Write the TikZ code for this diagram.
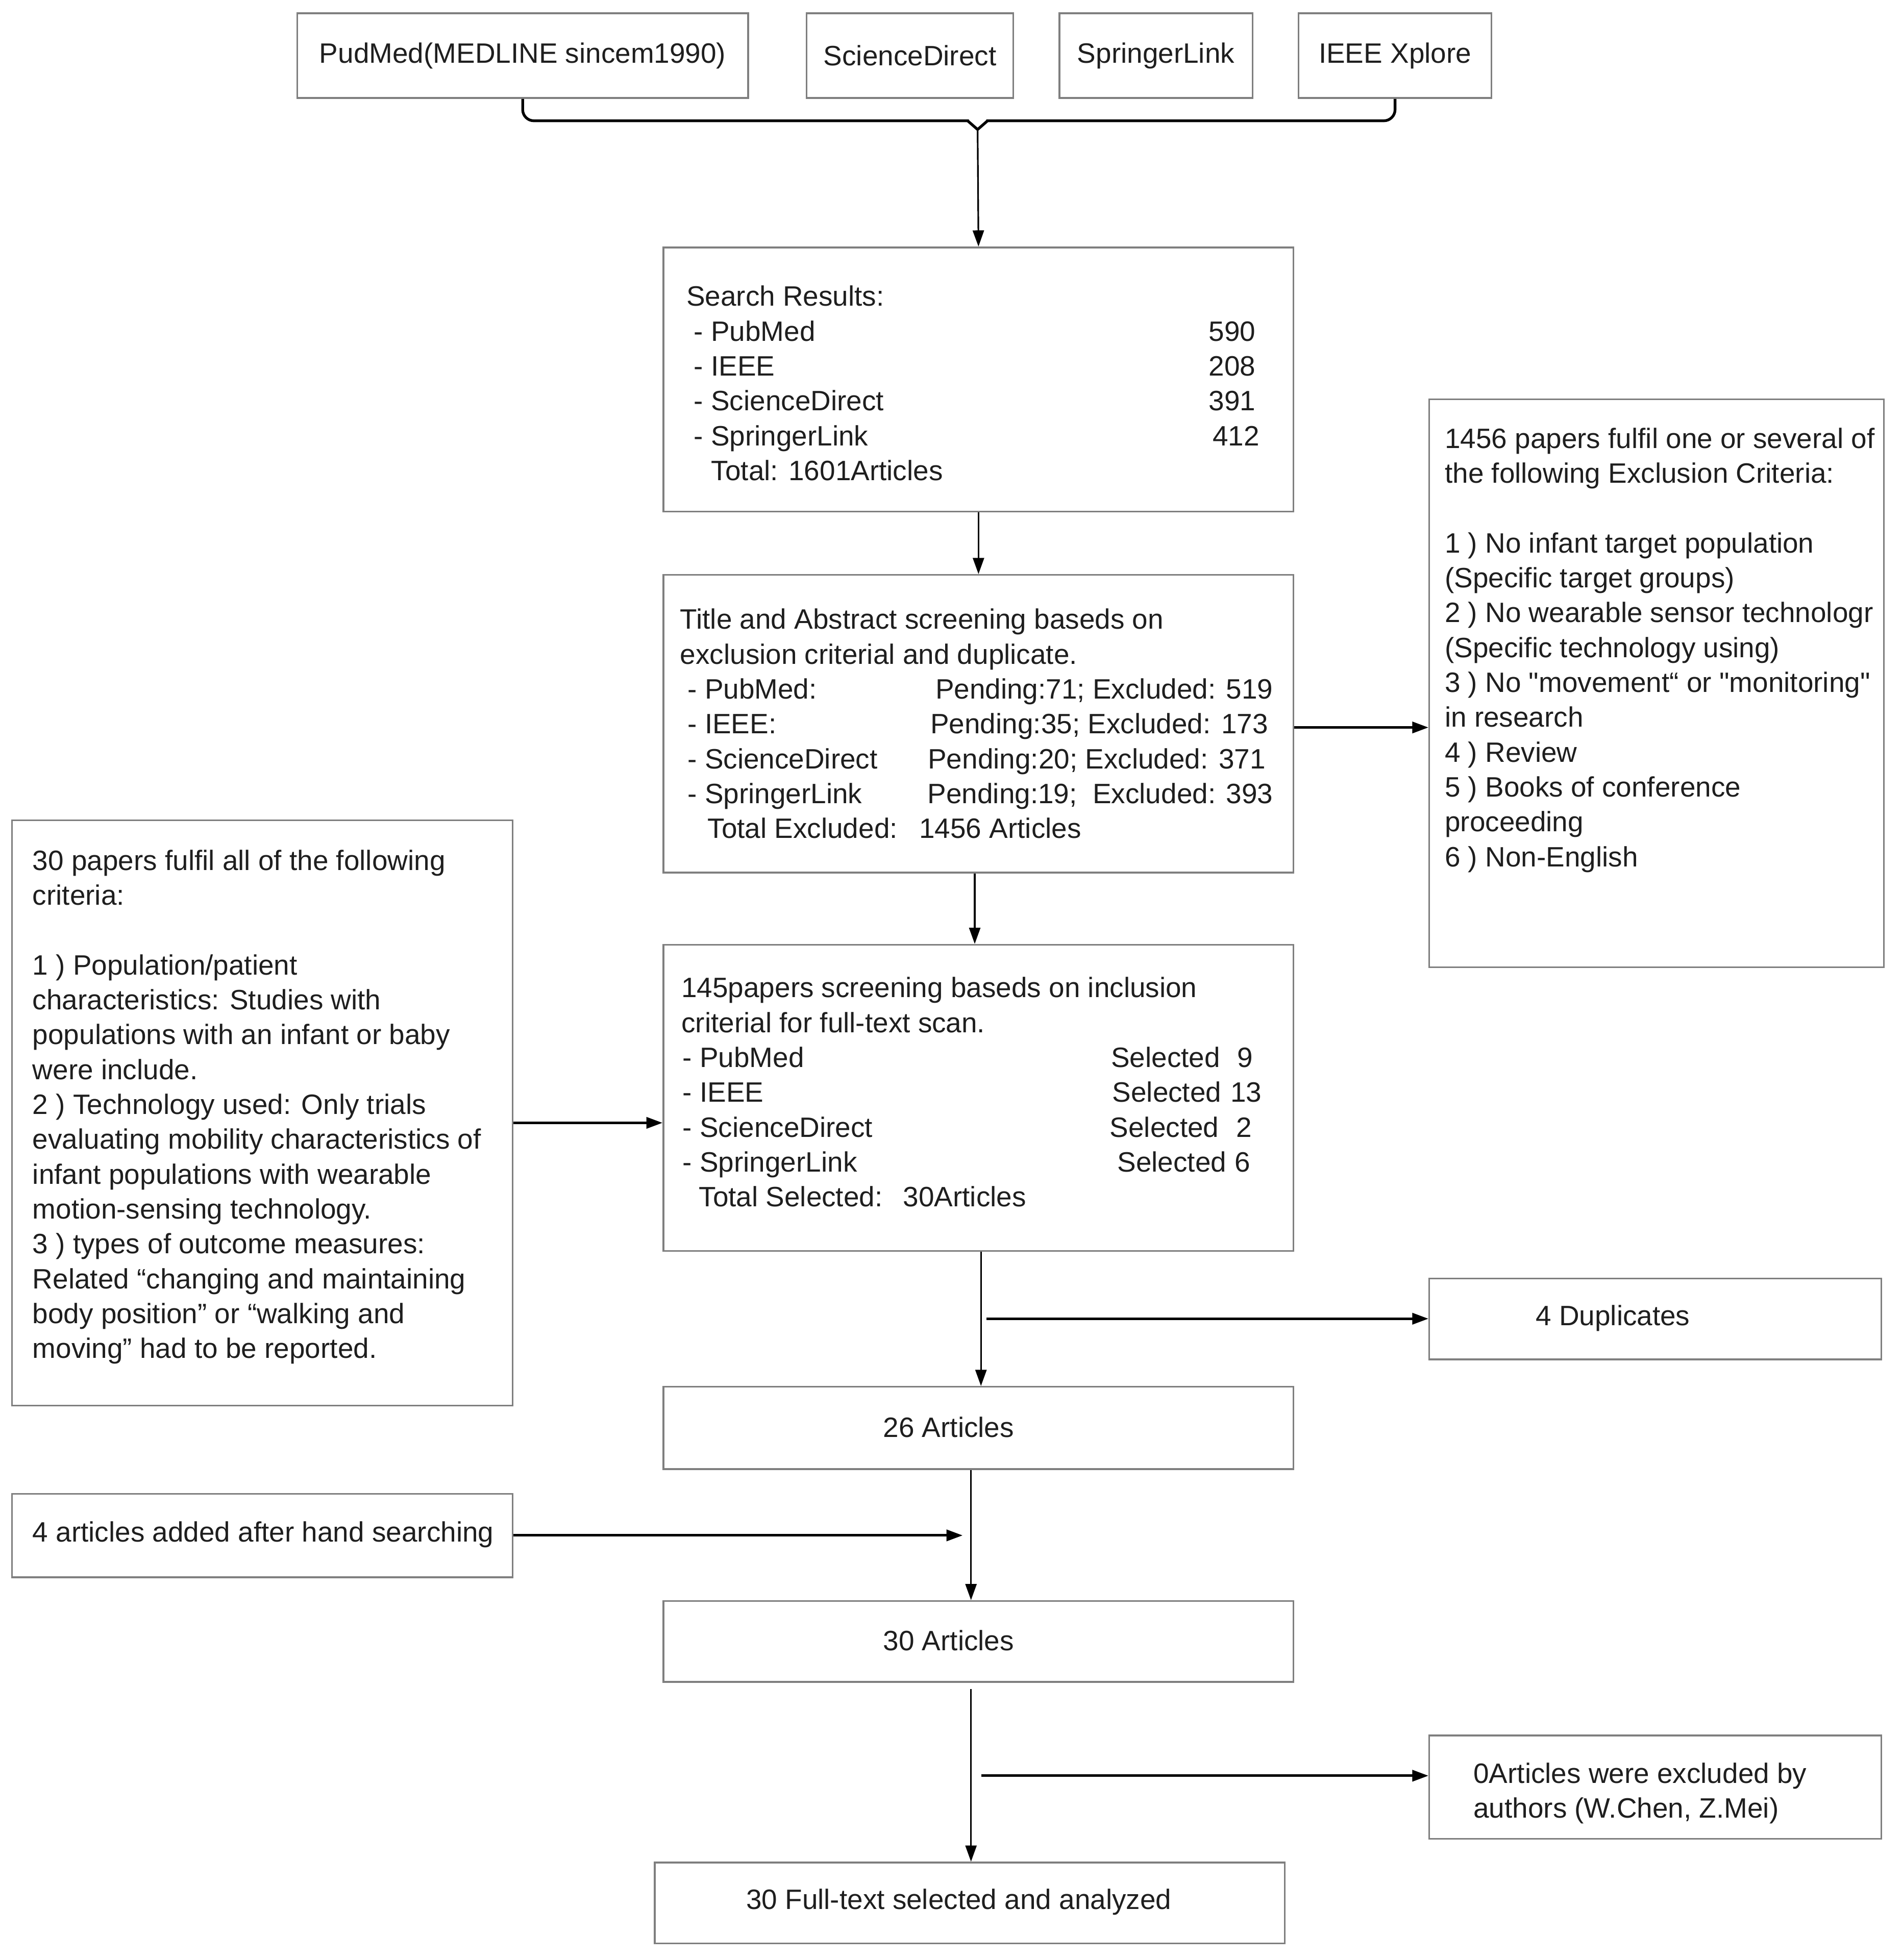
\documentclass[tikz,border=0pt]{standalone}
\usepackage{fontspec}
\setmainfont{Liberation Sans}[Ligatures=TeXOff]
\usetikzlibrary{arrows.meta,calc}
\definecolor{boxgray}{HTML}{7F7F7F}
\definecolor{txtc}{HTML}{1E1E1E}
\begin{document}
\begin{tikzpicture}[x=1pt,y=-1pt,
  box/.style={draw=boxgray,line width=1.4pt,inner sep=0pt,anchor=north west,text=txtc,font=\fontsize{22.5}{28}\selectfont},
  txt/.style={inner sep=0pt,text=txtc,font=\fontsize{22.5}{28}\selectfont,align=left,anchor=west},
  arr/.style={draw=black,line width=1.3pt,-{Triangle[length=13pt,width=9pt]}},
  harr/.style={draw=black,line width=2pt,-{Triangle[length=13pt,width=9pt]}},
  bracestyle/.style={draw=black,line width=2.2pt}]
\fill[white] (0,0) rectangle (1527,1574);
\useasboundingbox (0,0) rectangle (1527,1574);

% top source boxes
\node[box,minimum width=362pt,minimum height=68pt] (pm) at (238,10) {PudMed(MEDLINE sincem1990)};
\node[box,minimum width=166pt,minimum height=68pt] (sd) at (647,10) {ScienceDirect};
\node[box,minimum width=155pt,minimum height=68pt] (sl) at (850,10) {SpringerLink};
\node[box,minimum width=155pt,minimum height=68pt] (ie) at (1042,10) {IEEE Xplore};

% search results
\node[box,minimum width=506pt,minimum height=212pt] (sr) at (532,198) {};
\node[txt] (srt) at ([xshift=19pt,yshift=-3pt]sr.west) {Search Results:\\
\makebox[457pt][l]{\hspace*{6pt}- PubMed\hfill 590}\\
\makebox[457pt][l]{\hspace*{6pt}- IEEE\hfill 208}\\
\makebox[457pt][l]{\hspace*{6pt}- ScienceDirect\hfill 391}\\
\makebox[460pt][l]{\hspace*{6pt}- SpringerLink\hfill 412}\\
\hspace*{20pt}Total: 1601Articles};

% title and abstract screening
\node[box,minimum width=506pt,minimum height=239pt] (ta) at (532,461) {};
\node[txt] (tat) at ([xshift=14pt]ta.west) {Title and Abstract screening baseds on\\
exclusion criterial and duplicate.\\
\makebox[476pt][l]{\hspace*{6pt}- PubMed:\hfill Pending:71; Excluded: 519}\\
\makebox[472pt][l]{\hspace*{6pt}- IEEE:\hfill Pending:35; Excluded: 173}\\
\makebox[470pt][l]{\hspace*{6pt}- ScienceDirect\hfill Pending:20; Excluded: 371}\\
\makebox[476pt][l]{\hspace*{6pt}- SpringerLink\hfill Pending:19;\ \ Excluded: 393}\\
\hspace*{22pt}\makebox[170pt][l]{Total Excluded:}1456 Articles};

% exclusion criteria
\node[box,minimum width=365pt,minimum height=456pt] (ex) at (1147,320) {};
\node[txt] (ext) at (1160,522) {1456 papers fulfil one or several of\\
the following Exclusion Criteria:\\[28pt]
1 ) No infant target population\\
(Specific target groups)\\
2 ) No wearable sensor technologr\\
(Specific technology using)\\
3 ) No "movement“ or "monitoring"\\
in research\\
4 ) Review\\
5 ) Books of conference\\
proceeding\\
6 ) Non-English};

% inclusion criteria (left)
\node[box,minimum width=402pt,minimum height=470pt] (inc) at (9,658) {};
\node[txt] (inct) at (26,889) {30 papers fulfil all of the following\\
criteria:\\[28pt]
1 ) Population/patient\\
characteristics: Studies with\\
populations with an infant or baby\\
were include.\\
2 ) Technology used: Only trials\\
evaluating mobility characteristics of\\
infant populations with wearable\\
motion-sensing technology.\\
3 ) types of outcome measures:\\
Related “changing and maintaining\\
body position” or “walking and\\
moving” had to be reported.};

% 145 papers
\node[box,minimum width=506pt,minimum height=246pt] (pf) at (532,758) {};
\node[txt] (pft) at (547,877) {145papers screening baseds on inclusion\\
criterial for full-text scan.\\
\makebox[345pt][l]{\hspace*{1pt}- PubMed}\makebox[114pt][l]{Selected\hfill 9}\\
\makebox[346pt][l]{\hspace*{1pt}- IEEE}\makebox[120pt][l]{Selected\hfill 13}\\
\makebox[344pt][l]{\hspace*{1pt}- ScienceDirect}\makebox[114pt][l]{Selected\hfill 2}\\
\makebox[350pt][l]{\hspace*{1pt}- SpringerLink}\makebox[107pt][l]{Selected\hfill 6}\\
\hspace*{14pt}\makebox[164pt][l]{Total Selected:}30Articles};

% lower boxes
\node[box,minimum width=363pt,minimum height=65pt] (dup) at (1147,1026) {};
\node[txt] (dupt) at (1233,1058.5) {4 Duplicates};
\node[box,minimum width=506pt,minimum height=66pt] (a26) at (532,1113) {};
\node[txt] (a26t) at (709,1146) {26 Articles};
\node[box,minimum width=402pt,minimum height=67pt] (hs) at (9,1199) {};
\node[txt] (hst) at (26,1232.5) {4 articles added after hand searching};
\node[box,minimum width=506pt,minimum height=65pt] (a30) at (532,1285) {};
\node[txt] (a30t) at (709,1317.5) {30 Articles};
\node[box,minimum width=363pt,minimum height=83pt] (zex) at (1147,1393) {};
\node[txt] (zext) at (1183,1440) {0Articles were excluded by\\authors (W.Chen, Z.Mei)};
\node[box,minimum width=506pt,minimum height=65pt] (full) at (525,1495) {};
\node[txt] (fullt) at (599,1527.5) {30 Full-text selected and analyzed};

% brace joining the sources
\coordinate (bv) at (785,104);
\draw[bracestyle,rounded corners=9pt] (pm.south) |- ($(bv)+(-7,-7)$);
\draw[bracestyle] ($(bv)+(-8,-7)$) -- (bv) -- ($(bv)+(8,-7)$);
\draw[bracestyle,rounded corners=9pt] ($(bv)+(7,-7)$) -| (ie.south);
\draw[arr] (bv) -- (sr.north);

% main flow
\draw[arr] (sr.south) -- (ta.north);
\coordinate (e0) at ($(ta.east)+(0,3)$);
\draw[harr] (e0) -- (e0 -| ex.west);
\draw[arr] ($(ta.south)+(-3,0)$) -- ($(pf.north)+(-3,0)$);
\coordinate (i0) at ($(inc.east)+(0,8)$);
\draw[harr] (i0) -- (i0 -| pf.west);
\draw[arr] ($(pf.south)+(2,0)$) -- ($(a26.north)+(2,0)$);
\coordinate (d0) at (792,1059);
\draw[harr] (d0) -- (d0 -| dup.west);
\draw[arr] ($(a26.south)+(-6,0)$) -- ($(a30.north)+(-6,0)$);
\coordinate (h1) at (773,1233);
\draw[harr] (hs.east |- h1) -- (h1);
\draw[arr] ($(a30.south)+(-6,5)$) -- (full.north -| {$(a30.south)+(-6,0)$});
\coordinate (z0) at (788,1426);
\draw[harr] (z0) -- (z0 -| zex.west);
\end{tikzpicture}
\end{document}
